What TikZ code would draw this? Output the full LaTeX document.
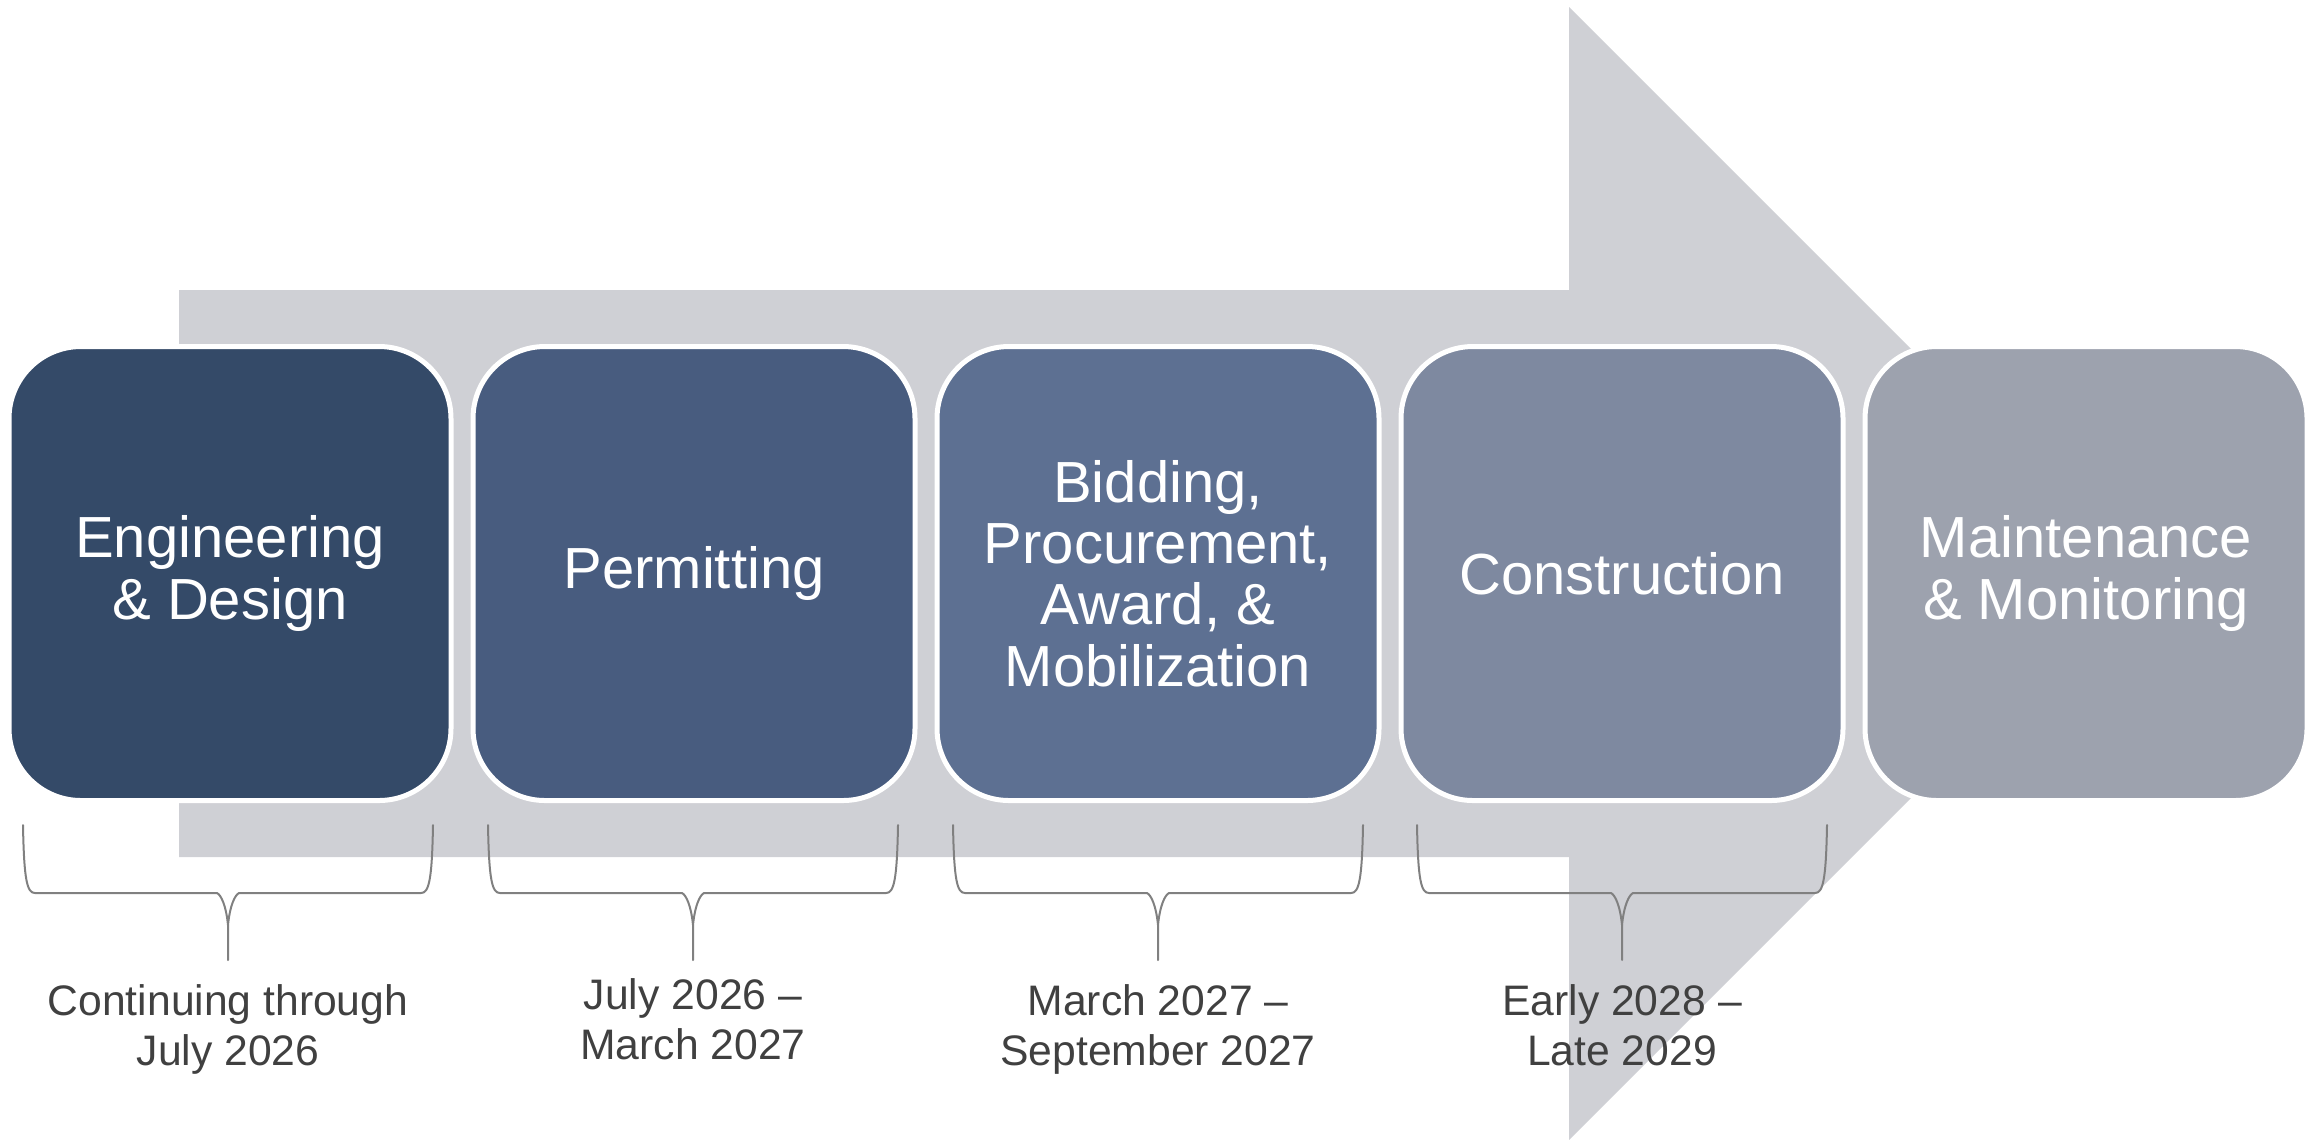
\documentclass[tikz,border=0pt]{standalone}
\usepackage{fontspec}
\setmainfont{Liberation Sans}
\definecolor{arrowgray}{HTML}{CFD0D5}
\definecolor{cA}{HTML}{344A68}
\definecolor{cB}{HTML}{485C7F}
\definecolor{cC}{HTML}{5D7092}
\definecolor{cD}{HTML}{7E89A0}
\definecolor{cE}{HTML}{9DA2AE}
\definecolor{bracegray}{HTML}{808080}
\definecolor{labelgray}{HTML}{404040}
\tikzset{
  stepbox/.style={rectangle, draw=white, line width=1.5pt, rounded corners=21.6pt,
    minimum width=132.6pt, minimum height=136.2pt, inner sep=0pt, text=white,
    align=center, font=\fontsize{17.4}{18.4}\selectfont},
  lbl/.style={text=labelgray, align=center, inner sep=0pt, font=\fontsize{12.8}{15}\selectfont},
  bracestyle/.style={draw=bracegray, line width=0.6pt, line cap=round, line join=round}
}
\begin{document}
\begin{tikzpicture}[x=0.3pt, y=-0.3pt]
\useasboundingbox (0,0) rectangle (2306,1139);
% big arrow
\fill[arrowgray] (179,290) -- (1569,290) -- (1569,7) -- (2135.5,573.5) -- (1569,1140) -- (1569,857) -- (179,857) -- cycle;
% boxes
\node[stepbox, fill=cA] (b1) at (230,573.5) {Engineering\\\& Design};
\node[stepbox, fill=cB] (b2) at (694,573.5) {Permitting};
\node[stepbox, fill=cC] (b3) at (1158,573.5) {Bidding,\\Procurement,\\Award, \&\\Mobilization};
\node[stepbox, fill=cD] (b4) at (1622,573.5) {Construction};
\node[stepbox, fill=cE] (b5) at (2086,573.5) {Maintenance\\\& Monitoring};
% braces
\foreach \c in {228,693,1158,1622}{
  \draw[bracestyle] (\c-205,825) .. controls (\c-204,880) and (\c-201,893) .. (\c-193,893)
     -- (\c-11,893) .. controls (\c-7,895) and (\c-2,905) .. (\c,925) -- (\c,960);
  \draw[bracestyle] (\c+205,825) .. controls (\c+204,880) and (\c+201,893) .. (\c+193,893)
     -- (\c+11,893) .. controls (\c+7,895) and (\c+2,905) .. (\c,925);
}
% labels (base anchor = baseline of last line)
\node[lbl, anchor=base] (l1) at (228,1065) {Continuing through\\July 2026};
\node[lbl, anchor=base] (l2) at (693,1059) {July 2026 –\\March 2027};
\node[lbl, anchor=base] (l3) at (1158,1065) {March 2027 –\\September 2027};
\node[lbl, anchor=base] (l4) at (1622,1065) {Early 2028 –\\Late 2029};
\end{tikzpicture}
\end{document}
